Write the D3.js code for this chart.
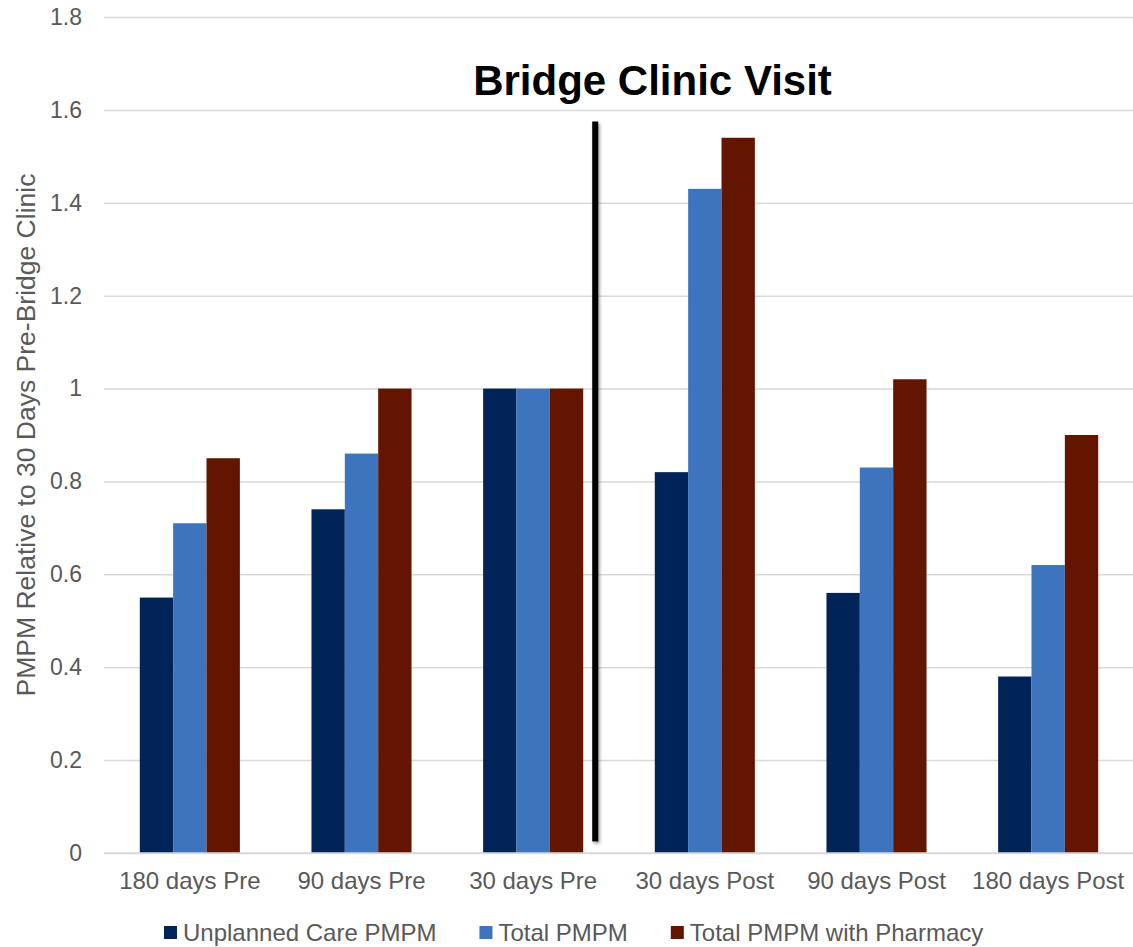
<!DOCTYPE html>
<html>
<head>
<meta charset="utf-8">
<script src="https://cdn.jsdelivr.net/npm/d3@7/dist/d3.min.js"></script>
<style>
  html, body { margin: 0; padding: 0; background: #fff; }
  svg text { font-family: "Liberation Sans", Arial, sans-serif; }
</style>
</head>
<body>
<svg id="chart" width="1133" height="947"></svg>
<script>
// Periods around the Bridge Clinic visit
const categories = ["180 days Pre", "90 days Pre", "30 days Pre", "30 days Post", "90 days Post", "180 days Post"];
const seriesNames = ["Unplanned Care PMPM", "Total PMPM", "Total PMPM with Pharmacy"];
const unplannedCare = [0.55, 0.74, 1.00, 0.82, 0.56, 0.38];
const totalPmpm = [0.71, 0.86, 1.00, 1.43, 0.83, 0.62];
const totalWithPharmacy = [0.85, 1.00, 1.00, 1.54, 1.02, 0.90];
const yTicks = [0, 0.2, 0.4, 0.6, 0.8, 1.0, 1.2, 1.4, 1.6, 1.8];
const colors = ["#002458", "#3e74be", "#641500"];
const titleText = "Bridge Clinic Visit";
const yTitle = "PMPM Relative to 30 Days Pre-Bridge Clinic";
// The visit marker sits just after the last "Pre" period
const visitAfter = "30 days Pre";

const seriesValues = [unplannedCare, totalPmpm, totalWithPharmacy];

const svg = d3.select("#chart");
const plot = { left: 104, right: 1134, top: 17, bottom: 853 };

const x0 = d3.scaleBand()
  .domain(categories)
  .range([plot.left, plot.right])
  .paddingInner(0.417)
  .paddingOuter(0.2085);

const x1 = d3.scaleBand()
  .domain(seriesNames)
  .range([0, x0.bandwidth()]);

const y = d3.scaleLinear()
  .domain([0, 1.8])
  .range([plot.bottom, plot.top]);

const textColor = "#595959";
const gridColor = "#d9d9d9";

// Horizontal gridlines and value labels
const yAxis = d3.axisLeft(y)
  .tickValues(yTicks)
  .tickSize(-(plot.right - plot.left))
  .tickPadding(22)
  .tickFormat(d => String(+d.toFixed(1)));

const yg = svg.append("g")
  .attr("transform", `translate(${plot.left},0)`)
  .call(yAxis);
yg.select(".domain").remove();
yg.selectAll(".tick line").attr("stroke", gridColor).attr("stroke-width", 1.5);
yg.selectAll(".tick text")
  .attr("fill", textColor)
  .style("font-size", "23px");

// Bars
const groups = svg.append("g")
  .selectAll("g")
  .data(categories)
  .join("g")
  .attr("transform", d => `translate(${x0(d)},0)`);

groups.selectAll("rect")
  .data((c, i) => seriesNames.map((s, k) => ({ series: s, k, value: seriesValues[k][i] })))
  .join("rect")
  .attr("x", d => x1(d.series))
  .attr("width", x1.bandwidth())
  .attr("y", d => y(d.value))
  .attr("height", d => y(0) - y(d.value))
  .attr("fill", d => colors[d.k]);

// Category axis
const xAxis = d3.axisBottom(x0).tickSize(0).tickPadding(19);
const xg = svg.append("g")
  .attr("transform", `translate(0,${plot.bottom})`)
  .call(xAxis);
xg.select(".domain")
  .attr("d", `M${plot.left},0H${plot.right}`)
  .attr("stroke", gridColor)
  .attr("stroke-width", 1.5);
xg.selectAll(".tick text")
  .attr("fill", textColor)
  .style("font-size", "24px");

// Y axis title
svg.append("text")
  .attr("transform", `translate(35,${(plot.top + plot.bottom) / 2}) rotate(-90)`)
  .attr("text-anchor", "middle")
  .attr("fill", textColor)
  .style("font-size", "26.5px")
  .text(yTitle);

// Visit marker line with a soft shadow
const defs = svg.append("defs");
const f = defs.append("filter").attr("id", "shadow")
  .attr("filterUnits", "userSpaceOnUse")
  .attr("x", 540).attr("y", 100).attr("width", 120).attr("height", 780);
f.append("feDropShadow")
  .attr("dx", 1.5).attr("dy", 2).attr("stdDeviation", 1.5)
  .attr("flood-color", "#000").attr("flood-opacity", 0.4);

const lineX = x0(visitAfter) + x0.bandwidth() + x0.step() * 0.07;
const lineW = 6;
svg.append("rect")
  .attr("x", lineX - lineW / 2)
  .attr("width", lineW)
  .attr("y", y(1.575))
  .attr("height", y(0.025) - y(1.575))
  .attr("fill", "#000")
  .attr("filter", "url(#shadow)");

// Title above the marker
svg.append("text")
  .attr("x", 652.5)
  .attr("y", 95)
  .attr("text-anchor", "middle")
  .attr("fill", "#000")
  .style("font-size", "42px")
  .style("font-weight", "bold")
  .text(titleText);

// Legend
const legend = svg.append("g");
let lx = 164;
seriesNames.forEach((name, k) => {
  legend.append("rect")
    .attr("x", lx).attr("y", 926)
    .attr("width", 13).attr("height", 13)
    .attr("fill", colors[k]);
  const t = legend.append("text")
    .attr("x", lx + 19).attr("y", 941)
    .attr("fill", textColor)
    .style("font-size", "24px")
    .text(name);
  lx += 19 + t.node().getComputedTextLength() + 43;
});
</script>
</body>
</html>
